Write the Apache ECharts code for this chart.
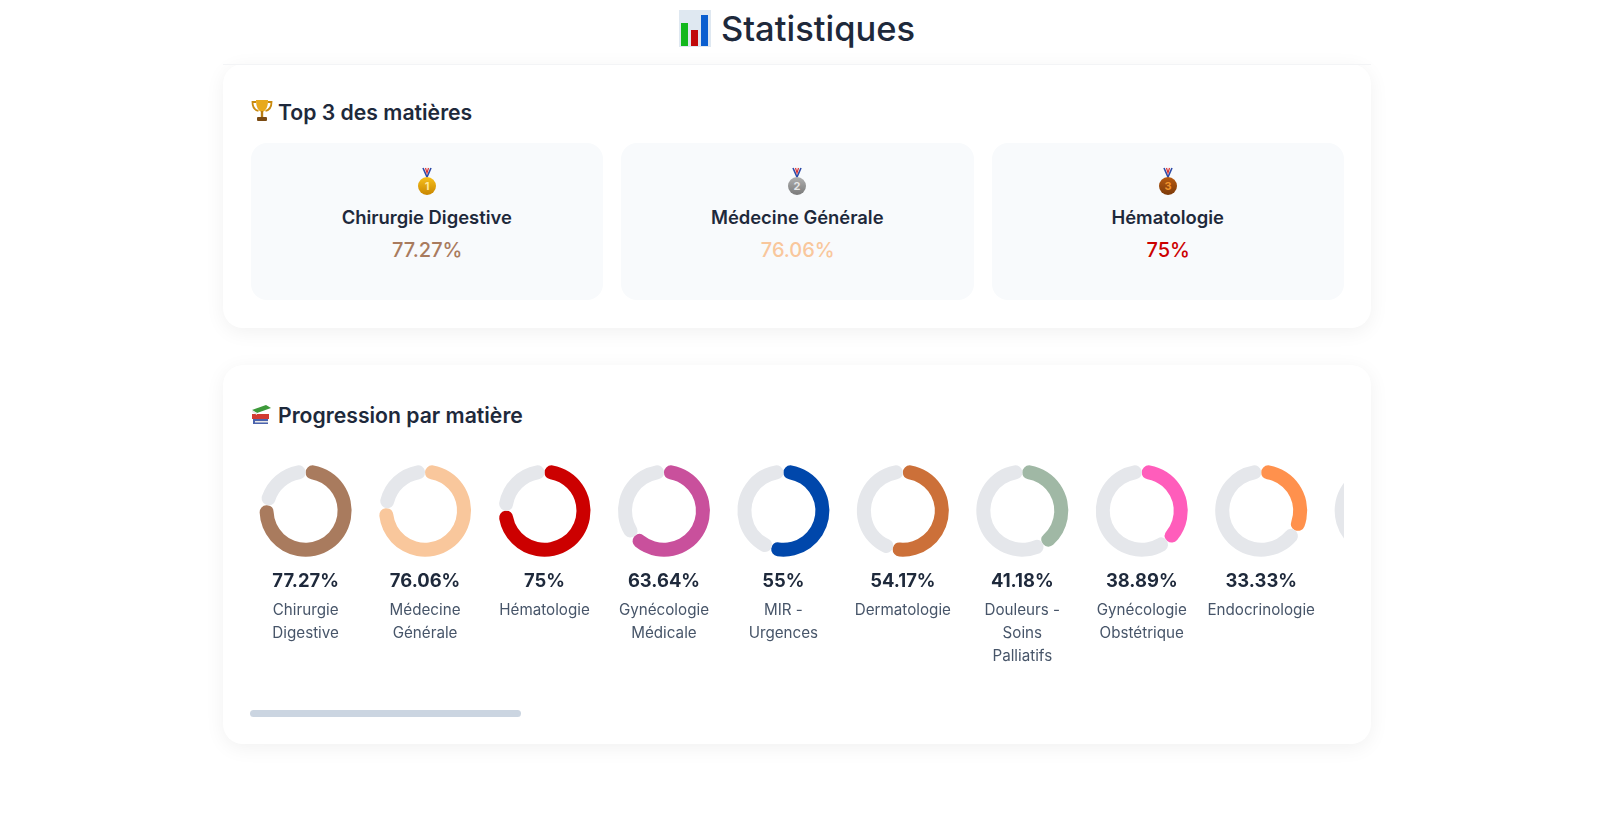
<!DOCTYPE html>
<html lang="fr"><head><meta charset="utf-8"><title>Statistiques</title>
<script src="https://cdn.jsdelivr.net/npm/echarts@6/dist/echarts.min.js"></script>
<style>
html,body{margin:0;padding:0;width:1600px;height:813px;overflow:hidden;background:#fff;font-family:Inter,"Noto Sans",sans-serif;color:#1e293b}
.abs{position:absolute}
h1{position:absolute;left:-3px;width:1600px;top:4px;margin:0;text-align:center;font-size:34.5px;line-height:50px;font-weight:500}
h1 svg{vertical-align:-6px;margin-right:10px}
.card{position:absolute;left:223px;width:1148px;background:#fff;border-radius:20px;box-shadow:0 4px 20px rgba(0,0,0,.06)}
.rule{position:absolute;left:223px;width:1148px;top:64px;height:1px;background:#f3f4f6}
h2{position:absolute;left:278px;margin:0;font-size:21.2px;line-height:32px;font-weight:600;white-space:nowrap}
.box{position:absolute;top:143px;height:157px;width:352.5px;background:#f8fafc;border-radius:16px;text-align:center}
.box .n{position:absolute;left:0;right:0;top:61.5px;font-size:18.4px;line-height:24px;font-weight:600}
.box .p{position:absolute;left:1px;right:0;top:94px;font-size:20px;line-height:26px;font-weight:500}
.box svg{position:absolute;left:50%;margin-left:-11px;top:24px}
#chart{position:absolute;left:250px;top:440px;width:1094px;height:260px;overflow:hidden}
.thumb{position:absolute;left:250px;top:710px;width:271px;height:7px;border-radius:4px;background:#cbd5e1}
</style></head><body>
<h1><svg width="32" height="37" viewBox="0 0 32 37"><rect width="32" height="37" fill="#dfe8f1"/><rect x="2" y="13" width="7" height="23" fill="#12b81c"/><rect x="12" y="20" width="7" height="16" fill="#c10a0a"/><rect x="22" y="5" width="7" height="31" fill="#0b5fd0"/></svg>Statistiques</h1>
<div class="card" style="top:64px;height:264px"></div>
<div class="card" style="top:365px;height:379px"></div>
<div class="rule"></div>
<svg class="abs" style="left:251px;top:99px" width="22" height="24" viewBox="0 0 22 24"><path d="M5 3H1.500c0 5 2 8 6 9M17 3h3.500c0 5-2 8-6 9" fill="none" stroke="#c98a0e" stroke-width="1.800"/><path d="M5 1h12c0 7-2 11-6 12C7 12 5 8 5 1z" fill="#e8a91c"/><rect x="9.800" y="12" width="2.400" height="6" fill="#b97d10"/><rect x="6" y="18" width="10" height="4" rx="1" fill="#7a4a12"/></svg>
<h2 style="top:96px" id="h2a"></h2>
<svg class="abs" style="left:251px;top:404px" width="21" height="21" viewBox="0 0 21 21"><rect x="2" y="15" width="15" height="5" fill="#4a63ad"/><rect x="1" y="10" width="17" height="5" fill="#d13c32"/><path d="M1 6 15 1l5 3-14 5z" fill="#3d9a3a"/><path d="M1 6l5 3v2L1 8z" fill="#e8e8e8"/><rect x="4" y="17" width="13" height="1.500" fill="#e8e8e8"/></svg>
<h2 style="top:399px" id="h2b"></h2>
<div id="top3"></div>
<div id="chart"></div>
<div class="thumb"></div>
<script>
const sectionTitles = ['Top 3 des matières', 'Progression par matière'];
const names = ['Chirurgie\nDigestive','Médecine\nGénérale','Hématologie','Gynécologie\nMédicale','MIR -\nUrgences','Dermatologie','Douleurs -\nSoins\nPalliatifs','Gynécologie\nObstétrique','Endocrinologie',''];
const percentLabels = ['77.27%','76.06%','75%','63.64%','55%','54.17%','41.18%','38.89%','33.33%',''];
const values = [77.27,76.06,75,63.64,55,54.17,41.18,38.89,33.33,30];
const colors = ['#a97b5e','#f9c79c','#cc0000','#c9509c','#0047ab','#cc7039','#a0b8a5','#ff5dbb','#ff914d','#e5e7eb'];
const trackColor = '#e5e7eb';
const medalColors = [['#f7c01c','#c98600','#ffe9a0'],['#b0b0b0','#7a7a7a','#e6e6e6'],['#b85a10','#7c3a0a','#f0932b']];
const boxLefts = [250.5,621,991.5];

document.getElementById('h2a').textContent = sectionTitles[0];
document.getElementById('h2b').textContent = sectionTitles[1];
document.getElementById('top3').innerHTML = boxLefts.map((l,i)=>`<div class="box" style="left:${l}px">
<svg width="22" height="30" viewBox="0 0 22 30"><defs><linearGradient id="m${i}" x1="0" y1="0" x2="0" y2="1"><stop offset="0" stop-color="${medalColors[i][0]}"/><stop offset="1" stop-color="${medalColors[i][1]}"/></linearGradient></defs><path d="M7 1l4 9 4-9" fill="none" stroke="#2d4aa8" stroke-width="1.600"/><path d="M9.500 1l1.500 5 1.500-5" fill="none" stroke="#d33" stroke-width="1.200"/><circle cx="11" cy="19" r="9" fill="url(#m${i})"/><text x="11" y="23" text-anchor="middle" font-size="11" font-weight="700" fill="${medalColors[i][2]}">${i+1}</text></svg>
<div class="n">${names[i].replace('\n',' ')}</div><div class="p" style="color:${colors[i]}">${percentLabels[i]}</div></div>`).join('');

const cx0 = 55.6, step = 119.45, cy = 70.7;
const chart = echarts.init(document.getElementById('chart'), null, {renderer:'canvas'});
chart.setOption({
  animation:false,
  tooltip:{show:false},
  title: names.flatMap((nm,i)=> nm===''?[]:[
    {text:percentLabels[i],left:cx0+step*i,top:130,textAlign:'center',padding:0,
     textStyle:{fontFamily:'Inter',fontSize:18.4,fontWeight:700,color:'#1e293b',lineHeight:22}},
    {text:nm,left:cx0+step*i,top:159,textAlign:'center',padding:0,
     textStyle:{fontFamily:'Inter',fontSize:15.2,fontWeight:400,color:'#475569',lineHeight:23}}
  ]),
  series: values.map((v,i)=>({
    type:'pie',silent:true,startAngle:90,clockwise:true,
    radius:[32,46],center:[cx0+step*i,cy],
    label:{show:false},labelLine:{show:false},
    itemStyle:{borderRadius:7},
    data:[{value:v,itemStyle:{color:colors[i]}},{value:100-v,itemStyle:{color:trackColor}}]
  }))
});
</script>
</body></html>
